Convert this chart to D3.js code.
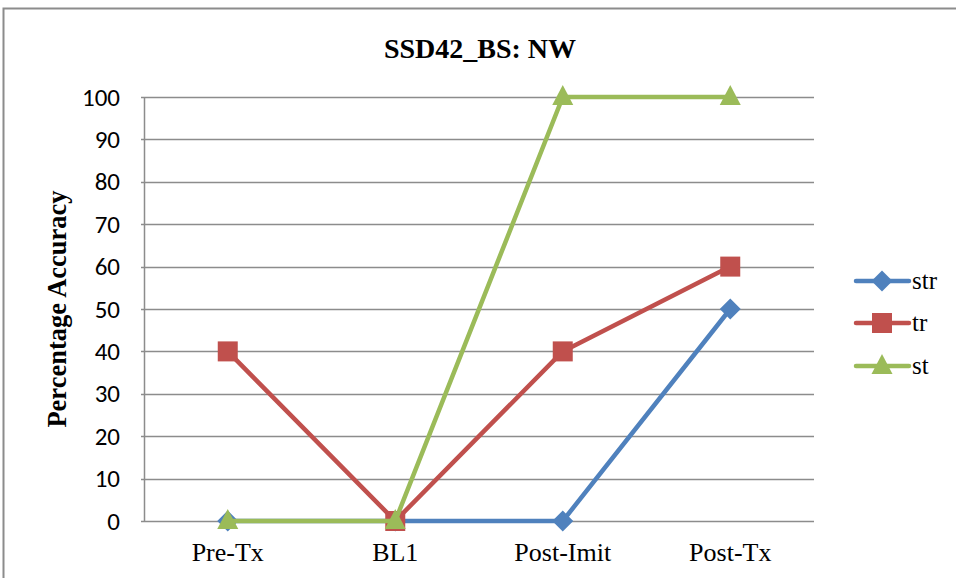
<!DOCTYPE html>
<html><head><meta charset="utf-8">
<script src="https://cdn.jsdelivr.net/npm/d3@7"></script>
<style>body{margin:0;background:#fff}svg{display:block}</style>
</head><body>
<script>
const categories = ["Pre-Tx", "BL1", "Post-Imit", "Post-Tx"];
const seriesNames = ["str", "tr", "st"];
const strValues = [0, 0, 0, 50];
const trValues = [40, 0, 40, 60];
const stValues = [0, 0, 100, 100];
const yTicks = [0, 10, 20, 30, 40, 50, 60, 70, 80, 90, 100];
const titleText = "SSD42_BS: NW";
const yLabel = "Percentage Accuracy";

(function () {
const W = 956, H = 578;
const colors = {str: "#4F81BD", tr: "#C0504D", st: "#9BBB59"};
const series = [
  {name: "str", values: strValues, shape: "diamond"},
  {name: "tr", values: trValues, shape: "square"},
  {name: "st", values: stValues, shape: "triangle"}
];
const serif = "'Liberation Serif', 'Times New Roman', serif";

const svg = d3.select("body").append("svg").attr("width", W).attr("height", H);
svg.append("rect").attr("x", 3.5).attr("y", 8.5).attr("width", 980).attr("height", 620)
  .attr("fill", "#fff").attr("stroke", "#8c8c8c").attr("stroke-width", 2);

const pLeft = 144, pRight = 814, pTop = 97, pBottom = 521;
const x = d3.scaleBand().domain(categories).range([pLeft, pRight]);
const y = d3.scaleLinear().domain([0, 100]).range([pBottom, pTop]);

svg.append("g").selectAll("line").data(yTicks).join("line")
  .attr("x1", pLeft - 3).attr("x2", pRight)
  .attr("y1", d => Math.round(y(d)) + 0.5).attr("y2", d => Math.round(y(d)) + 0.5)
  .attr("stroke", "#8c8c8c").attr("stroke-width", 1.5);
svg.append("line").attr("x1", pLeft + 0.5).attr("x2", pLeft + 0.5).attr("y1", pTop).attr("y2", pBottom + 1)
  .attr("stroke", "#8c8c8c").attr("stroke-width", 1.5);

svg.append("g").selectAll("text").data(yTicks).join("text")
  .attr("x", 120).attr("y", d => y(d)).attr("dy", "0.34em")
  .attr("text-anchor", "end").attr("font-family", "Carlito, 'Liberation Sans', Arial, sans-serif")
  .attr("font-size", 25).attr("fill", "#000").text(d => d);

svg.append("g").selectAll("text").data(categories).join("text")
  .attr("x", d => x(d) + x.bandwidth() / 2).attr("y", 561)
  .attr("text-anchor", "middle").attr("font-family", serif)
  .attr("font-size", 26).attr("fill", "#000").text(d => d);

svg.append("text").attr("x", 480).attr("y", 58).attr("text-anchor", "middle")
  .attr("font-family", serif).attr("font-weight", "bold")
  .attr("font-size", 28).text(titleText);

svg.append("text").attr("transform", "translate(66,309) rotate(-90)").attr("text-anchor", "middle")
  .attr("font-family", serif).attr("font-weight", "bold")
  .attr("font-size", 26.5).text(yLabel);

function marker(g, shape, cx, cy, color) {
  if (shape === "diamond") {
    const s = 10.5;
    g.append("path").attr("d", `M${cx},${cy - s}L${cx + s},${cy}L${cx},${cy + s}L${cx - s},${cy}Z`).attr("fill", color);
  } else if (shape === "square") {
    const s = 10;
    g.append("rect").attr("x", cx - s).attr("y", cy - s).attr("width", 2 * s).attr("height", 2 * s).attr("fill", color);
  } else {
    g.append("path").attr("d", `M${cx},${cy - 12}L${cx + 10.5},${cy + 8}L${cx - 10.5},${cy + 8}Z`).attr("fill", color);
  }
}

const line = d3.line().x((d, i) => x(categories[i]) + x.bandwidth() / 2).y(d => y(d));
series.forEach(s => {
  const g = svg.append("g");
  g.append("path").datum(s.values).attr("d", line).attr("fill", "none")
    .attr("stroke", colors[s.name]).attr("stroke-width", 4.5).attr("stroke-linejoin", "round");
  s.values.forEach((v, i) => marker(g, s.shape, x(categories[i]) + x.bandwidth() / 2, y(v), colors[s.name]));
});

const legY = [281, 323, 366];
series.forEach((s, i) => {
  const g = svg.append("g");
  g.append("line").attr("x1", 856).attr("x2", 909).attr("y1", legY[i]).attr("y2", legY[i])
    .attr("stroke", colors[s.name]).attr("stroke-width", 4.5).attr("stroke-linecap", "round");
  marker(g, s.shape, 882, legY[i], colors[s.name]);
  g.append("text").attr("x", 912).attr("y", legY[i]).attr("dy", "0.32em")
    .attr("font-family", serif).attr("font-size", 25)
    .text(seriesNames[i]);
});
})();
</script>
</body></html>
